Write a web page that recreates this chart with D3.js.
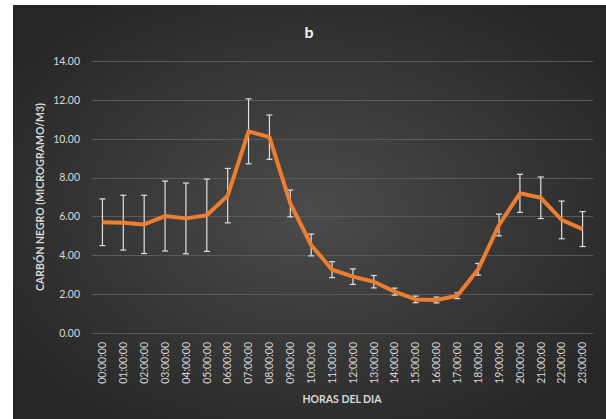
<!DOCTYPE html>
<html>
<head>
<meta charset="utf-8">
<script src="https://cdn.jsdelivr.net/npm/d3@7"></script>
<style>
  body { margin: 0; background: #fff; }
  svg { display: block; }
</style>
</head>
<body>
<svg width="606" height="419"></svg>
<script>
// hourly averages of black carbon, with +/- error
const hours = ["00:00:00", "01:00:00", "02:00:00", "03:00:00", "04:00:00", "05:00:00",
  "06:00:00", "07:00:00", "08:00:00", "09:00:00", "10:00:00", "11:00:00",
  "12:00:00", "13:00:00", "14:00:00", "15:00:00", "16:00:00", "17:00:00",
  "18:00:00", "19:00:00", "20:00:00", "21:00:00", "22:00:00", "23:00:00"];
const values = [5.70, 5.68, 5.59, 6.02, 5.90, 6.06, 7.07, 10.38, 10.08, 6.67, 4.53, 3.26,
  2.90, 2.64, 2.13, 1.73, 1.70, 1.92, 3.28, 5.56, 7.19, 6.96, 5.82, 5.35];
const errors = [1.20, 1.41, 1.50, 1.80, 1.82, 1.86, 1.40, 1.67, 1.14, 0.69, 0.56, 0.41,
  0.40, 0.32, 0.18, 0.17, 0.15, 0.15, 0.30, 0.56, 0.98, 1.07, 0.97, 0.90];
const yTicks = [0, 2, 4, 6, 8, 10, 12, 14];

const svg = d3.select("svg");
const font = "Lato, 'Open Sans', sans-serif";
const textColor = "#d9d9d9";

// background
const defs = svg.append("defs");
const grad = defs.append("radialGradient")
    .attr("id", "bg")
    .attr("cx", "50%").attr("cy", "50%").attr("r", "62%");
grad.append("stop").attr("offset", "0%").attr("stop-color", "#4b4b4b");
grad.append("stop").attr("offset", "100%").attr("stop-color", "#262626");

svg.append("rect")
    .attr("x", 13).attr("y", 5)
    .attr("width", 593).attr("height", 414)
    .attr("fill", "url(#bg)");

const x = d3.scaleBand().domain(hours).range([92, 593]);
const y = d3.scaleLinear().domain([0, 14]).range([333, 61]);
const cx = d => x(d) + x.bandwidth() / 2;

// gridlines
svg.append("g")
    .selectAll("line")
    .data(yTicks)
    .join("line")
    .attr("x1", 92).attr("x2", 593)
    .attr("y1", d => Math.round(y(d)) + 0.5)
    .attr("y2", d => Math.round(y(d)) + 0.5)
    .attr("stroke", "#5a5a5a")
    .attr("stroke-width", 1);

// y axis labels
const yAxis = svg.append("g")
    .attr("transform", "translate(84,0)")
    .call(d3.axisLeft(y).tickValues(yTicks).tickFormat(d3.format(".2f")).tickSize(0).tickPadding(4));
yAxis.select(".domain").remove();
yAxis.selectAll("text")
    .attr("fill", textColor)
    .attr("font-family", font)
    .attr("font-size", 10.5);

// x axis labels
const xAxis = svg.append("g")
    .attr("transform", "translate(0,333)")
    .call(d3.axisBottom(x).tickSize(0).tickPadding(0));
xAxis.select(".domain").remove();
xAxis.selectAll("text")
    .attr("fill", textColor)
    .attr("font-family", font)
    .attr("font-size", 10.5)
    .attr("text-anchor", "end")
    .attr("dy", null)
    .attr("y", 0)
    .attr("transform", "translate(3.8,9) rotate(-90)");

// error bars
const eb = svg.append("g")
    .attr("stroke", "#e0e0e0")
    .attr("stroke-width", 1.2);
hours.forEach((h, i) => {
  const xx = cx(h);
  const top = y(values[i] + errors[i]);
  const bot = y(values[i] - errors[i]);
  eb.append("line").attr("x1", xx).attr("x2", xx).attr("y1", top).attr("y2", bot);
  eb.append("line").attr("x1", xx - 3).attr("x2", xx + 3).attr("y1", top).attr("y2", top);
  eb.append("line").attr("x1", xx - 3).attr("x2", xx + 3).attr("y1", bot).attr("y2", bot);
});

// series line
const line = d3.line()
    .x((d, i) => cx(hours[i]))
    .y(d => y(d));

svg.append("path")
    .datum(values)
    .attr("d", line)
    .attr("fill", "none")
    .attr("stroke", "#ed7d31")
    .attr("stroke-width", 4)
    .attr("stroke-linejoin", "round");

// titles
svg.append("text")
    .attr("x", 309).attr("y", 38)
    .attr("text-anchor", "middle")
    .attr("fill", "#f2f2f2")
    .attr("font-family", font)
    .attr("font-weight", "bold")
    .attr("font-size", 16)
    .text("b");

svg.append("text")
    .attr("x", 342).attr("y", 403)
    .attr("text-anchor", "middle")
    .attr("fill", textColor)
    .attr("font-family", font)
    .attr("font-weight", "bold")
    .attr("font-size", 10.5)
    .text("HORAS DEL DIA");

svg.append("text")
    .attr("transform", "translate(44,197) rotate(-90)")
    .attr("text-anchor", "middle")
    .attr("fill", textColor)
    .attr("font-family", font)
    .attr("font-weight", "bold")
    .attr("font-size", 10.5)
    .text("CARBÓN NEGRO (MICROGRAMO/M3)");
</script>
</body>
</html>
